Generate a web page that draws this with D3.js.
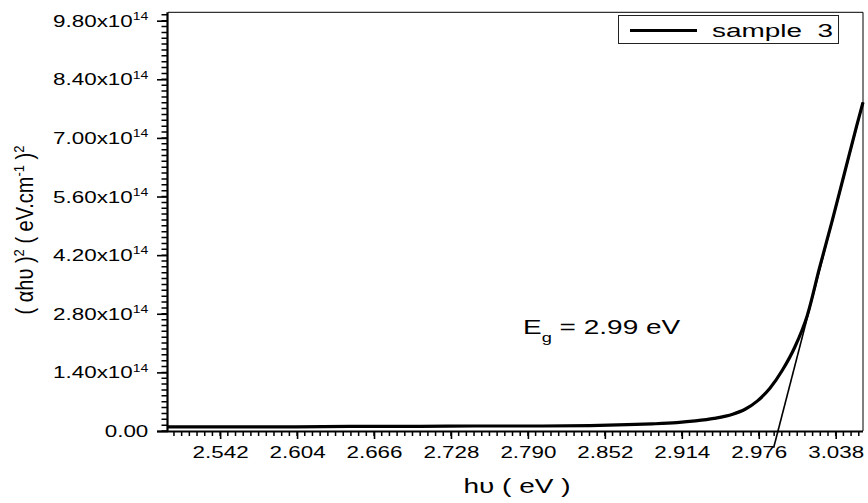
<!DOCTYPE html>
<html>
<head>
<meta charset="utf-8">
<script src="https://cdn.jsdelivr.net/npm/d3@7"></script>
<style>
  html, body { margin: 0; padding: 0; background: #fff; }
  svg { display: block; font-family: "Liberation Sans", Arial, sans-serif; }
</style>
</head>
<body>
<svg id="chart" width="868" height="503"></svg>
<script>
// ---- data ----
const hv = [2.500, 2.550, 2.600, 2.650, 2.700, 2.750, 2.800, 2.840, 2.870, 2.890, 2.910, 2.925,
            2.940, 2.955, 2.965, 2.975, 2.985, 2.995, 3.005, 3.015, 3.025, 3.035, 3.045, 3.055, 3.060];
// (alpha h nu)^2 in units of 1e14
const alphaHv2 = [0.10, 0.10, 0.10, 0.11, 0.11, 0.12, 0.12, 0.13, 0.15, 0.17, 0.20, 0.24,
                  0.30, 0.40, 0.52, 0.72, 1.02, 1.45, 2.00, 2.75, 3.90, 5.00, 6.15, 7.30, 7.85];
// linear fit (tangent) line, y in units of 1e14
const fitX = [2.988, 3.060];
const fitY = [-0.40, 7.85];
const xTickValues = [2.542, 2.604, 2.666, 2.728, 2.790, 2.852, 2.914, 2.976, 3.038];
const yTickValues = [0, 1.40, 2.80, 4.20, 5.60, 7.00, 8.40, 9.80];   // x1e14
const seriesName = "sample  3";
const gapLabel = "2.99 eV";

// ---- layout ----
const svg = d3.select("#chart");
const L = 168, R = 863, T = 12.3, B = 431;
const SX = 1.4; // horizontal text stretch seen in the reference
const x = d3.scaleLinear().domain([2.5, 3.06]).range([L, R]);
const y = d3.scaleLinear().domain([0, 10.0]).range([B, T]);

// frame top/right
svg.append("line").attr("x1", L).attr("x2", R).attr("y1", T).attr("y2", T)
  .attr("stroke", "#000").attr("stroke-width", 1);
svg.append("line").attr("x1", R).attr("x2", R).attr("y1", T).attr("y2", B)
  .attr("stroke", "#000").attr("stroke-width", 1);

// minor ticks (10 subdivisions per major step)
const xMinor = d3.range(1, 91).map(i => 2.4986 + i * 0.0062).filter(v => v <= 3.0605);
const yMinor = d3.range(0, 72).map(i => i * 0.14).filter(v => v <= 10.0);

const minorX = "M" + xMinor.map(d => `${x(d)},${B}v5`).join("M");
const minorY = "M" + yMinor.map(d => `${L},${y(d)}h-6.5`).join("M");
svg.append("path").attr("d", minorX).attr("fill", "none").attr("stroke", "#000").attr("stroke-width", 1.5);
svg.append("path").attr("d", minorY).attr("fill", "none").attr("stroke", "#000").attr("stroke-width", 1.5);

// major x axis
const gx = svg.append("g").attr("transform", `translate(0,${B})`)
  .call(d3.axisBottom(x).tickValues(xTickValues).tickSize(8).tickSizeOuter(0).tickFormat(d3.format(".3f")));
gx.select(".domain").attr("stroke-width", 2).attr("d", `M${L - 11},0.5H${R}`);
gx.selectAll(".tick line").attr("stroke-width", 1.6);
gx.selectAll(".tick text")
  .attr("y", 27).attr("dy", 0)
  .attr("font-size", 16).attr("font-family", "Liberation Sans, Arial, sans-serif")
  .attr("fill", "#000")
  .attr("transform", `scale(${SX},1)`);

// major y axis
const gy = svg.append("g").attr("transform", `translate(${L},0)`)
  .call(d3.axisLeft(y).tickValues(yTickValues).tickSize(11).tickSizeOuter(0).tickFormat(() => ""));
gy.select(".domain").attr("stroke-width", 2.2).attr("d", `M-0.5,${B}V${T}`);
gy.selectAll(".tick line").attr("stroke-width", 1.6);
gy.selectAll(".tick").each(function(d) {
  const t = d3.select(this).append("text")
    .attr("transform", `scale(${SX},1)`)
    .attr("x", -19.7 / SX).attr("dy", "0.35em")
    .attr("text-anchor", "end")
    .attr("font-size", 16).attr("fill", "#000")
    .attr("font-family", "Liberation Sans, Arial, sans-serif");
  if (d === 0) {
    t.text("0.00");
  } else {
    t.append("tspan").text(d.toFixed(2) + "x10");
    t.append("tspan").attr("font-size", 10).attr("dy", -6.8).text("14");
  }
});

// data curve
const pts = hv.map((v, i) => [v, alphaHv2[i]]);
svg.append("path")
  .datum(pts)
  .attr("fill", "none").attr("stroke", "#000").attr("stroke-width", 3.2)
  .attr("stroke-linejoin", "round")
  .attr("d", d3.line().x(d => x(d[0])).y(d => y(d[1])).curve(d3.curveMonotoneX));

// tangent line
svg.append("path")
  .datum(fitX.map((v, i) => [v, fitY[i]]))
  .attr("fill", "none").attr("stroke", "#000").attr("stroke-width", 1.6)
  .attr("d", d3.line().x(d => x(d[0])).y(d => y(d[1])));

// Eg annotation
const eg = svg.append("text")
  .attr("transform", `translate(523,334) scale(${SX},1)`)
  .attr("font-size", 20).attr("fill", "#000");
eg.append("tspan").text("E");
eg.append("tspan").attr("font-size", 13).attr("dy", 8).text("g");
eg.append("tspan").attr("dy", -8).text(" = " + gapLabel);

// legend
svg.append("rect").attr("x", 618.5).attr("y", 15.5).attr("width", 220).attr("height", 28)
  .attr("fill", "#fff").attr("stroke", "#222").attr("stroke-width", 1);
svg.append("line").attr("x1", 630).attr("x2", 697).attr("y1", 30.5).attr("y2", 30.5)
  .attr("stroke", "#000").attr("stroke-width", 3);
svg.append("text").attr("x", 712).attr("y", 36.5)
  .attr("font-size", 18).attr("fill", "#000")
  .attr("style", "white-space:pre")
  .attr("textLength", 121).attr("lengthAdjust", "spacingAndGlyphs")
  .text(seriesName);

// axis titles
svg.append("text")
  .attr("transform", `translate(517,493) scale(${SX},1)`)
  .attr("text-anchor", "middle").attr("font-size", 20).attr("fill", "#000")
  .text("hυ ( eV )");

const yt = svg.append("text")
  .attr("transform", "translate(33,230) scale(1.15,1) rotate(-90)")
  .attr("text-anchor", "middle").attr("font-size", 20).attr("fill", "#000");
yt.append("tspan").text("( αhυ )");
yt.append("tspan").attr("font-size", 13).attr("dy", -8).text("2");
yt.append("tspan").attr("dy", 8).text(" ( eV.cm");
yt.append("tspan").attr("font-size", 13).attr("dy", -8).text("-1");
yt.append("tspan").attr("dy", 8).text(" )");
yt.append("tspan").attr("font-size", 13).attr("dy", -8).text("2");
</script>
</body>
</html>
